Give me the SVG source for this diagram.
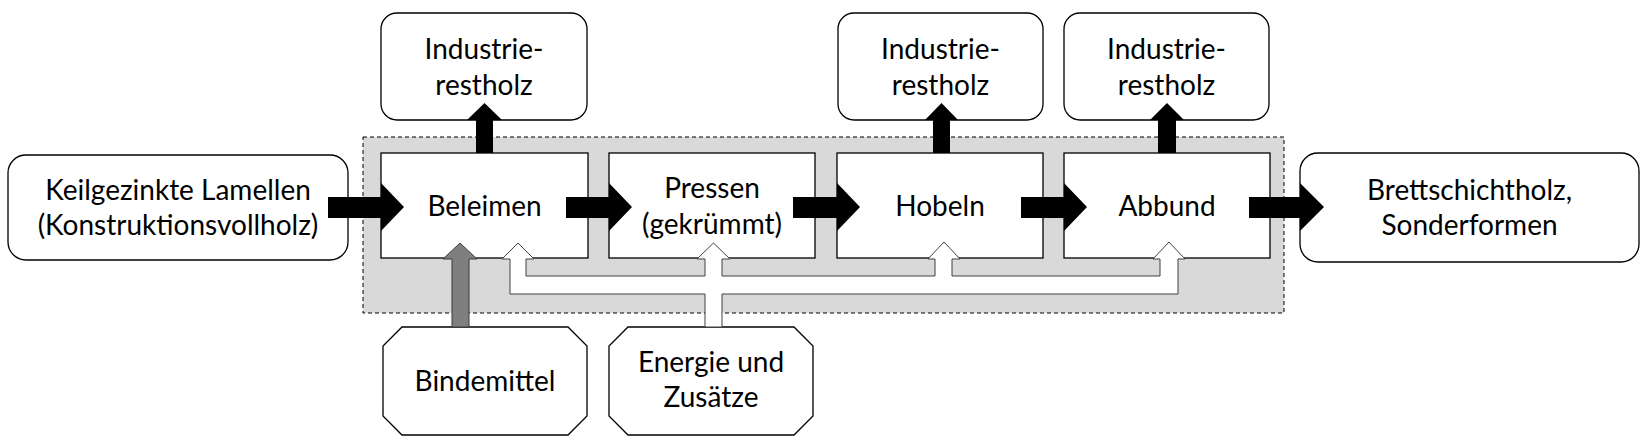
<svg xmlns="http://www.w3.org/2000/svg" width="1648" height="443" viewBox="0 0 1648 443">
<style>
text{font-family:Lato,"Liberation Sans",sans-serif;font-size:28px;fill:#000;text-anchor:middle}
.rbox{fill:#fff;stroke:#000;stroke-width:1.3}
.pbox{fill:#fff;stroke:#000;stroke-width:1.3}
.blk{fill:#000;stroke:none}
.pipe{fill:#fff;stroke:#404040;stroke-width:1}
.gray{fill:#7f7f7f;stroke:#3a3a3a;stroke-width:1}
</style>
<rect width="1648" height="443" fill="#fff"/>
<g id="process-area">
<rect x="363" y="137" width="921" height="176" fill="#d9d9d9" stroke="#000" stroke-width="1" stroke-dasharray="4 3"/>
</g>
<g id="input"><rect class="rbox" x="8" y="155" width="340" height="105" rx="18"/><text x="178" y="200">Keilgezinkte Lamellen</text><text x="178" y="235">(Konstruktionsvollholz)</text></g>
<g id="output"><rect class="rbox" x="1300" y="153" width="339" height="109" rx="18"/><text x="1469.5" y="200">Brettschichtholz,</text><text x="1469.5" y="235">Sonderformen</text></g>
<g id="rest1"><rect class="rbox" x="381" y="13" width="206" height="107" rx="16"/><text x="484" y="59">Industrie-</text><text x="484" y="95">restholz</text></g>
<g id="rest2"><rect class="rbox" x="838" y="13" width="205" height="107" rx="16"/><text x="940.5" y="59">Industrie-</text><text x="940.5" y="95">restholz</text></g>
<g id="rest3"><rect class="rbox" x="1064" y="13" width="205" height="107" rx="16"/><text x="1166.5" y="59">Industrie-</text><text x="1166.5" y="95">restholz</text></g>
<g id="beleimen"><rect class="pbox" x="381" y="153" width="207" height="105"/><text x="484.5" y="216">Beleimen</text></g>
<g id="pressen"><rect class="pbox" x="609" y="153" width="206" height="105"/><text x="712" y="198">Pressen</text><text x="712" y="234">(gekrümmt)</text></g>
<g id="hobeln"><rect class="pbox" x="837" y="153" width="206" height="105"/><text x="940" y="216">Hobeln</text></g>
<g id="abbund"><rect class="pbox" x="1064" y="153" width="206" height="105"/><text x="1167" y="216">Abbund</text></g>
<g id="bindemittel"><polygon class="pbox" points="402,327 568,327 587,346 587,416 568,435 402,435 383,416 383,346"/><text x="485" y="391">Bindemittel</text></g>
<g id="energie"><polygon class="pbox" points="628,327 794,327 813,346 813,416 794,435 628,435 609,416 609,346"/><text x="711" y="372">Energie und</text><text x="711" y="407">Zusätze</text></g>
<g id="connectors">
<polygon class="blk" points="328,197 381,197 381,183 404,207 381,231 381,218 328,218"/>
<polygon class="blk" points="566,197 609,197 609,183 632,207 609,231 609,218 566,218"/>
<polygon class="blk" points="793,197 837,197 837,183 860,207 837,231 837,218 793,218"/>
<polygon class="blk" points="1021,197 1064,197 1064,183 1087,207 1064,231 1064,218 1021,218"/>
<polygon class="blk" points="1249,197 1300,197 1300,183 1324,207 1300,231 1300,218 1249,218"/>
<polygon class="blk" points="476,153 476,120 467,120 484.5,103 502,120 493,120 493,153"/>
<polygon class="blk" points="933,153 933,120 925,120 941.5,103 958,120 950,120 950,153"/>
<polygon class="blk" points="1158,153 1158,120 1150,120 1167,103 1184,120 1176,120 1176,153"/>
<polygon class="gray" points="452,327 452,259 443,259 460,243 477,259 469,259 469,327"/>
<polygon class="pipe" points="518,243 534,259 526,259 526,276 705,276 705,259 697,259 713.5,243 730,259 722,259 722,276 935,276 935,259 928,259 944,242 960,259 952,259 952,276 1160,276 1160,259 1153,259 1169,242 1185,259 1178,259 1178,294 722,294 722,327 705,327 705,294 510,294 510,259 502,259"/>
</g>
</svg>
